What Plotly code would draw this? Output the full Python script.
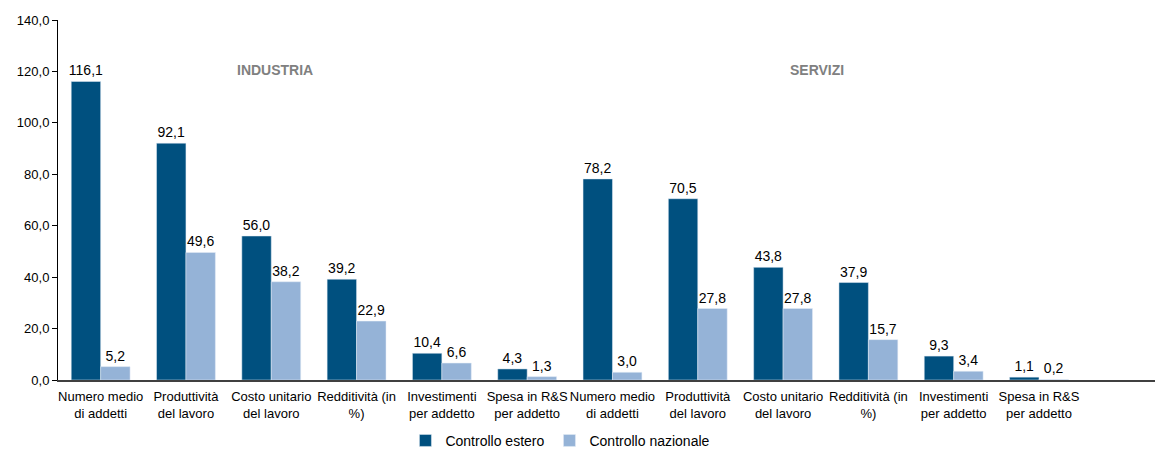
import plotly.graph_objects as go

categories = [
    "Numero medio<br>di addetti", "Produttività<br>del lavoro", "Costo unitario<br>del lavoro",
    "Redditività (in<br>%)", "Investimenti<br>per addetto", "Spesa in R&S<br>per addetto",
    "Numero medio<br>di addetti", "Produttività<br>del lavoro", "Costo unitario<br>del lavoro",
    "Redditività (in<br>%)", "Investimenti<br>per addetto", "Spesa in R&S<br>per addetto",
]
estero = [116.1, 92.1, 56.0, 39.2, 10.4, 4.3, 78.2, 70.5, 43.8, 37.9, 9.3, 1.1]
nazionale = [5.2, 49.6, 38.2, 22.9, 6.6, 1.3, 3.0, 27.8, 27.8, 15.7, 3.4, 0.2]
yticks = [0, 20, 40, 60, 80, 100, 120, 140]

x = list(range(len(categories)))
font_fam = "Liberation Sans, Arial, sans-serif"

fig = go.Figure()
fig.add_trace(go.Bar(x=x, y=estero, name="Controllo estero", marker_color="#00507F",
                     texttemplate="%{y:.1f}", textposition="outside", constraintext="none",
                     textfont=dict(size=14, color="#000000", family=font_fam), cliponaxis=False))
fig.add_trace(go.Bar(x=x, y=nazionale, name="Controllo nazionale", marker_color="#95B3D7",
                     texttemplate="%{y:.1f}", textposition="outside", constraintext="none",
                     textfont=dict(size=14, color="#000000", family=font_fam), cliponaxis=False))

fig.add_annotation(x=2.04, y=120.6, text="<b>INDUSTRIA</b>", showarrow=False,
                   font=dict(size=14, color="#808080", family=font_fam))
fig.add_annotation(x=8.4, y=120.6, text="<b>SERVIZI</b>", showarrow=False,
                   font=dict(size=14, color="#808080", family=font_fam))

fig.update_layout(
    width=1157, height=451,
    margin=dict(l=58, r=2, t=20, b=71, autoexpand=False),
    paper_bgcolor="white", plot_bgcolor="white",
    separators=",.",
    barmode="group", bargap=0.31, bargroupgap=0,
    font=dict(family=font_fam, size=12, color="#000000"),
    showlegend=True,
    legend=dict(orientation="h", x=0.458, xanchor="center", y=-0.169, yanchor="middle",
                font=dict(size=14), traceorder="normal", itemwidth=30,
                tracegroupgap=0),
)
fig.update_xaxes(range=[-0.5, 12.36], tickvals=x, ticktext=categories, showline=True,
                 linecolor="#404040", linewidth=1.5, ticks="", showgrid=False, zeroline=False,
                 tickfont=dict(size=13), ticklabelstandoff=4, automargin=False)
fig.update_yaxes(range=[0, 140], tickvals=yticks, tickformat=".1f", showline=True,
                 linecolor="#000000", linewidth=1, ticks="outside", ticklen=5, tickcolor="#000000",
                 showgrid=False, zeroline=False, tickfont=dict(size=13), automargin=False)

fig.write_html("out.html")
